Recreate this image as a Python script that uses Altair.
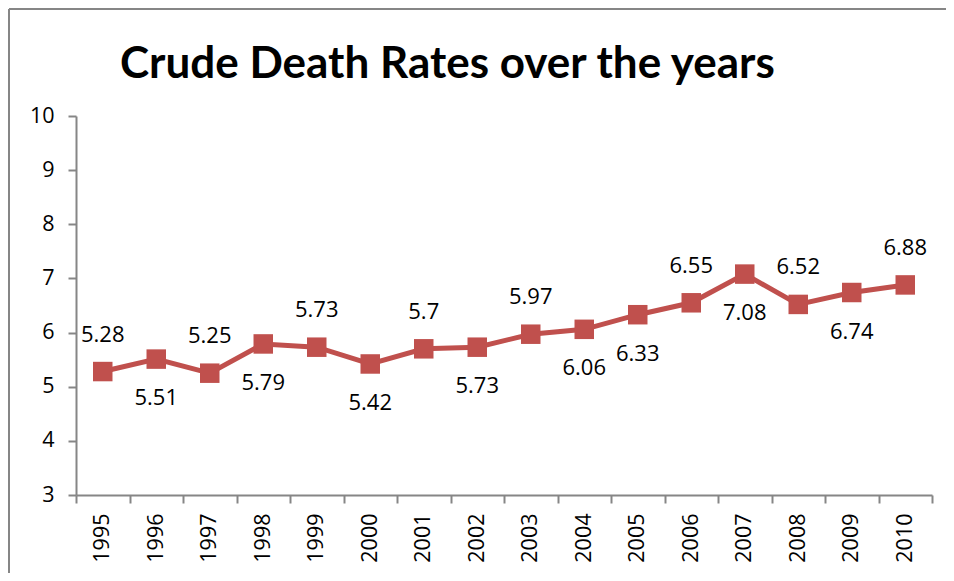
import altair as alt
import pandas as pd

years = ["1995", "1996", "1997", "1998", "1999", "2000", "2001", "2002",
         "2003", "2004", "2005", "2006", "2007", "2008", "2009", "2010"]
rates = [5.28, 5.51, 5.25, 5.79, 5.73, 5.42, 5.70, 5.73,
         5.97, 6.06, 6.33, 6.55, 7.08, 6.52, 6.74, 6.88]
label_side = ["above", "below", "above", "below", "above", "below", "above", "below",
              "above", "below", "below", "above", "below", "above", "below", "above"]
y_ticks = [3, 4, 5, 6, 7, 8, 9, 10]
title_text = "Crude Death Rates over the years"

df = pd.DataFrame({"year": years, "rate": rates, "side": label_side})
df["label"] = [f"{v:g}" for v in rates]

RED = "#C0504D"
AXIS = "#868686"
FONT = "Open Sans"
TFONT = "Lato"

x_enc = alt.X("year:N", sort=years,
              scale=alt.Scale(paddingInner=0, paddingOuter=0),
              axis=alt.Axis(title=None, labelAngle=-90, labelAlign="right", labelBaseline="middle",
                            labelFontSize=21.5, labelFont=FONT, labelColor="#000",
                            tickBand="extent", tickSize=8, tickColor=AXIS, domainColor=AXIS,
                            domainWidth=2, tickWidth=2, labelPadding=10, grid=False))
y_enc = alt.Y("rate:Q", scale=alt.Scale(domain=[3, 10], nice=False, zero=False),
              axis=alt.Axis(title=None, values=y_ticks, labelFontSize=21.5, labelFont=FONT,
                            labelColor="#000", tickSize=8, tickColor=AXIS, domainColor=AXIS,
                            domainWidth=2, tickWidth=2, labelPadding=14, grid=False))

base = alt.Chart(df)

line = base.mark_line(color=RED, strokeWidth=5).encode(x=x_enc, y=y_enc)
pts = base.mark_square(color=RED, size=380, opacity=1).encode(x=x_enc, y=y_enc)

above = base.transform_filter(alt.datum.side == "above").mark_text(
    fontSize=22, font=FONT, color="#000", dy=-37).encode(x=x_enc, y=y_enc, text="label:N")
below = base.transform_filter(alt.datum.side == "below").mark_text(
    fontSize=22, font=FONT, color="#000", dy=39).encode(x=x_enc, y=y_enc, text="label:N")

title = alt.Chart(pd.DataFrame({"t": [title_text]})).mark_text(
    font=TFONT, fontSize=44, fontWeight="bold", color="#000", align="left",
    baseline="alphabetic").encode(x=alt.value(44), y=alt.value(-38), text="t:N")

frame_left = alt.Chart(df).mark_rule(color=AXIS, strokeWidth=2).encode(
    x=alt.value(-67), y=alt.value(-107), y2=alt.value(460))
frame_top = alt.Chart(df).mark_rule(color=AXIS, strokeWidth=2).encode(
    x=alt.value(-67), x2=alt.value(880), y=alt.value(-107))

chart = alt.layer(frame_left, frame_top, line, pts, above, below, title).properties(
    width=856, height=379,
    autosize=alt.AutoSizeParams(type="none"),
    padding={"left": 68, "top": 108, "right": 14, "bottom": 78},
).configure_view(stroke=None)

chart.save("out.html", embed_options={"renderer": "svg", "actions": False})
